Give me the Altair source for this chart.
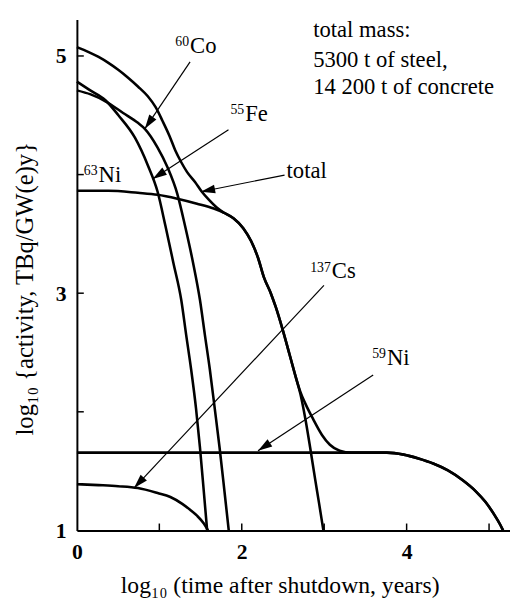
import math
import altair as alt
import pandas as pd

FONT = "Liberation Serif"
W, H = 440, 519
XMAX, YMIN, YMAX = 5.254, 1.0, 5.307

# ---------------- curves (x: log10 years after shutdown, y: log10 activity) -------------
co60_x = [0, 0.167, 0.346, 0.561, 0.740, 0.824, 0.979, 1.099, 1.218, 1.313, 1.409, 1.493, 1.552, 1.612, 1.672, 1.731, 1.791, 1.842]
co60_y = [4.710, 4.676, 4.618, 4.519, 4.436, 4.386, 4.228, 4.062, 3.838, 3.564, 3.257, 2.942, 2.651, 2.361, 2.029, 1.697, 1.324, 1.0]

fe55_x = [0, 0.143, 0.346, 0.501, 0.704, 0.860, 0.979, 1.075, 1.170, 1.266, 1.325, 1.385, 1.445, 1.493, 1.540, 1.580]
fe55_y = [4.784, 4.718, 4.627, 4.502, 4.311, 4.079, 3.855, 3.564, 3.257, 2.942, 2.651, 2.361, 2.029, 1.697, 1.324, 1.0]

ni63_x = [0, 0.382, 0.740, 0.979, 1.218, 1.457, 1.660, 1.779, 1.899, 2.018, 2.113, 2.197, 2.269, 2.352, 2.412, 2.496, 2.579, 2.651, 2.710, 2.770, 2.830, 2.890, 2.937, 2.990]
ni63_y = [3.863, 3.863, 3.846, 3.830, 3.797, 3.755, 3.714, 3.680, 3.631, 3.548, 3.440, 3.299, 3.133, 3.000, 2.884, 2.693, 2.485, 2.303, 2.154, 1.946, 1.697, 1.432, 1.232, 1.0]

ni59_x = [0, 3.331, 3.761, 3.964, 4.143, 4.322, 4.501, 4.681, 4.836, 4.955, 5.063, 5.134, 5.170]
ni59_y = [1.656, 1.656, 1.656, 1.639, 1.606, 1.564, 1.506, 1.423, 1.332, 1.241, 1.133, 1.050, 1.0]

cs137_x = [0, 0.263, 0.501, 0.740, 0.979, 1.134, 1.278, 1.373, 1.457, 1.540, 1.590]
cs137_y = [1.390, 1.382, 1.373, 1.357, 1.315, 1.282, 1.224, 1.174, 1.124, 1.058, 1.0]

total_x = [0, 0.143, 0.263, 0.382, 0.501, 0.621, 0.740, 0.860, 0.955, 1.039, 1.122, 1.194, 1.266, 1.337, 1.433,
           1.516, 1.600, 1.696, 1.779, 1.899, 2.018, 2.113, 2.197, 2.269, 2.352, 2.412, 2.496, 2.579, 2.651, 2.710,
           2.770, 2.866, 2.973, 3.069, 3.188, 3.331, 3.761, 3.964, 4.143, 4.322, 4.501, 4.681, 4.836, 4.955, 5.063,
           5.134, 5.170]
total_y = [5.075, 5.033, 4.992, 4.942, 4.884, 4.817, 4.743, 4.660, 4.568, 4.452, 4.328, 4.203, 4.104, 4.021, 3.938,
           3.855, 3.788, 3.722, 3.680, 3.631, 3.548, 3.440, 3.299, 3.133, 3.000, 2.884, 2.693, 2.485, 2.303, 2.170,
           2.071, 1.938, 1.805, 1.722, 1.672, 1.656, 1.656, 1.639, 1.606, 1.564, 1.506, 1.423, 1.332, 1.241, 1.133,
           1.050, 1.0]

# ---------------- labels ----------------
iso_sup = ["60", "55", "63", "137", "59"]
iso_sym = ["Co", "Fe", "Ni", "Cs", "Ni"]
iso_lx = [1.373, 2.042, 0.263, 3.093, 3.761]
iso_ly = [5.025, 4.452, 3.938, 3.124, 2.394]

total_lbl = ["total"]
total_lx = [2.543]
total_ly = [3.971]

note_lines = ["total mass:", "5300 t of steel,", "14 200 t of concrete"]
note_x = [2.866, 2.866, 2.866]
note_y = [5.158, 4.909, 4.676]

# arrows: tail -> tip
arr_x1 = [1.373, 1.839, 2.519, 2.997, 3.594]
arr_y1 = [4.950, 4.378, 3.996, 3.066, 2.311]
arr_x2 = [0.824, 0.919, 1.504, 0.693, 2.197]
arr_y2 = [4.386, 3.963, 3.855, 1.357, 1.672]

x_ticks = [1, 2, 3, 4, 5]
y_ticks = [2, 3, 4, 5]
x_labels = [0, 2, 4]
y_labels = [1, 3, 5]

# ---------------- tables ----------------
frames = []
for name, xs, ys in [("60Co", co60_x, co60_y), ("55Fe", fe55_x, fe55_y), ("63Ni", ni63_x, ni63_y),
                     ("59Ni", ni59_x, ni59_y), ("137Cs", cs137_x, cs137_y), ("total", total_x, total_y)]:
    frames.append(pd.DataFrame({"x": xs, "y": ys, "series": name}))
curves = pd.concat(frames, ignore_index=True)

iso_df = pd.DataFrame({"sup": iso_sup, "sym": iso_sym, "x": iso_lx, "y": iso_ly})
tot_df = pd.DataFrame({"t": total_lbl, "x": total_lx, "y": total_ly})
note_df = pd.DataFrame({"t": note_lines, "x": note_x, "y": note_y})

sx = W / XMAX
sy = H / (YMAX - YMIN)
angles = []
for a, b, c, d in zip(arr_x1, arr_y1, arr_x2, arr_y2):
    dx = (c - a) * sx
    dy = -(d - b) * sy
    angles.append(math.degrees(math.atan2(dx, -dy)) % 360)
arr_df = pd.DataFrame({"x": arr_x1, "y": arr_y1, "x2": arr_x2, "y2": arr_y2, "ang": angles})

xt_df = pd.DataFrame({"x": x_ticks})
yt_df = pd.DataFrame({"y": y_ticks})

xscale = alt.Scale(domain=[0, XMAX], nice=False, zero=False)
yscale = alt.Scale(domain=[YMIN, YMAX], nice=False, zero=False)

common_axis = dict(domainColor="black", domainWidth=2, ticks=False, grid=False,
                   labelFont=FONT, labelFontSize=22, labelColor="black", labelFontWeight="bold",
                   labelFlush=False, titleFont=FONT, titleFontWeight="normal",
                   titleColor="black")

x_axis = alt.Axis(values=x_labels, format="d", labelPadding=12,
                  title="log₁₀ (time after shutdown, years)", titleFontSize=24,
                  titleX=206, titleY=63, titleAlign="center", titleBaseline="alphabetic",
                  **common_axis)
y_axis = alt.Axis(values=y_labels, format="d", labelPadding=11,
                  title="log₁₀ {activity, TBq/GW(e)y}", titleFontSize=25,
                  titleAngle=270, titleX=-45, titleY=273, titleAlign="center",
                  titleBaseline="alphabetic", **common_axis)


def X(field="x"):
    return alt.X(f"{field}:Q", scale=xscale, axis=x_axis)


def Y(field="y"):
    return alt.Y(f"{field}:Q", scale=yscale, axis=y_axis)


lines = alt.Chart(curves).mark_line(color="black", strokeWidth=2.6, interpolate="monotone").encode(
    x=X(), y=Y(), detail="series:N")

arrow_lines = alt.Chart(arr_df).mark_rule(color="black", strokeWidth=1.2).encode(
    x=X(), y=Y(), x2="x2:Q", y2="y2:Q")

arrow_heads = alt.Chart(arr_df).mark_point(
    shape="M0,0L-0.6,2L0.6,2Z", filled=True, size=210, color="black", opacity=1).encode(
    x=X("x2"), y=Y("y2"), angle=alt.Angle("ang:Q", scale=None))

iso_main = alt.Chart(iso_df).mark_text(font=FONT, fontSize=23, align="left", baseline="alphabetic",
                                        color="black").encode(x=X(), y=Y(), text="sym:N")
iso_sup_t = alt.Chart(iso_df).mark_text(font=FONT, fontSize=14, align="right", baseline="alphabetic",
                                         dy=-7, dx=-1, color="black").encode(x=X(), y=Y(), text="sup:N")
tot_t = alt.Chart(tot_df).mark_text(font=FONT, fontSize=23, align="left", baseline="alphabetic",
                                     color="black").encode(x=X(), y=Y(), text="t:N")
note_t = alt.Chart(note_df).mark_text(font=FONT, fontSize=23, align="left", baseline="alphabetic",
                                       color="black").encode(x=X(), y=Y(), text="t:N")

xtick_marks = alt.Chart(xt_df).mark_rule(color="black", strokeWidth=1.5).encode(
    x=X(), y=alt.value(H), y2=alt.value(H - 7))
ytick_marks = alt.Chart(yt_df).mark_rule(color="black", strokeWidth=1.5).encode(
    y=Y(), x=alt.value(0), x2=alt.value(7))

chart = alt.layer(lines, xtick_marks, ytick_marks, arrow_lines, arrow_heads,
                  iso_main, iso_sup_t, tot_t, note_t).properties(
    width=W, height=H,
    autosize=alt.AutoSizeParams(type="none"),
    padding={"left": 70, "top": 7, "right": 0, "bottom": 69},
    background="white",
).configure_view(stroke=None)

chart.save("out.html", embed_options={"renderer": "svg", "actions": False})
